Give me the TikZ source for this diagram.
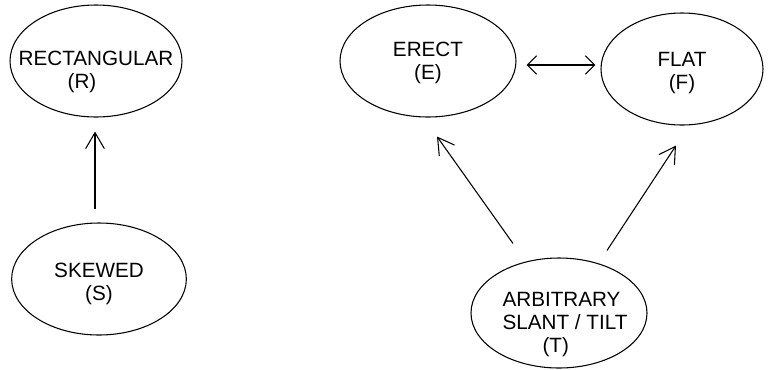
\documentclass[tikz,border=0pt]{standalone}
\usepackage{fontspec}
\setmainfont{Liberation Sans}
\usetikzlibrary{shapes}
\usetikzlibrary{arrows.meta}
\usetikzlibrary{calc}

\begin{document}
\begin{tikzpicture}[x=0.75pt,y=-0.75pt,
  state/.style={draw,ellipse,line width=0.8pt,inner sep=0pt},
  lbl/.style={align=center,font=\fontsize{15.5}{17.25}\selectfont},
  arr/.style={line width=0.8pt,-{Straight Barb[length=12pt,width=14pt]}},
  dbl/.style={line width=0.8pt,{Straight Barb[length=7pt,width=14pt]}-{Straight Barb[length=7pt,width=14pt]}}]
\useasboundingbox (0,0) rectangle (768,369);
\node[state] (r) at (96,61) [minimum width=129pt,minimum height=84pt] {};
\node[state] (s) at (99,279) [minimum width=131pt,minimum height=84pt] {};
\node[state] (e) at (428,61) [minimum width=132pt,minimum height=84pt] {};
\node[state] (f) at (682,69) [minimum width=121.5pt,minimum height=84pt] {};
\node[state] (t) at (559,313) [minimum width=132pt,minimum height=82.5pt] {};
% texts inside the ellipses
\node[lbl] (rt) at ($(r)+(0,11)$) {RECTANGULAR\\(R)\hspace*{21pt}};
\node[lbl] (st) at ($(s)+(0,5)$) {SKEWED\\(S)};
\node[lbl] (et) at ($(e)+(0,2)$) {ERECT\\(E)};
\node[lbl] (ft) at ($(f)+(0,4)$) {FLAT\\(F)};
\node[lbl,align=left] (tt) at ($(t)+(6,12)$) {ARBITRARY\\SLANT / TILT\\\hspace*{30pt}(T)};
% arrows
\draw[arr] ($(s.north)+(-4,-13)$) -- ($(r.south)+(-1,14)$);
\draw[arr] ($(t.north)+(-46,-14)$) -- ($(e.south)+(9,19)$);
\draw[arr] ($(t.north)+(48,-7)$) -- ($(f.south)+(-6,20)$);
\draw[dbl] ($(e.east)+(10,4)$) -- ($(f.west)+(-5,-4)$);
\end{tikzpicture}
\end{document}
